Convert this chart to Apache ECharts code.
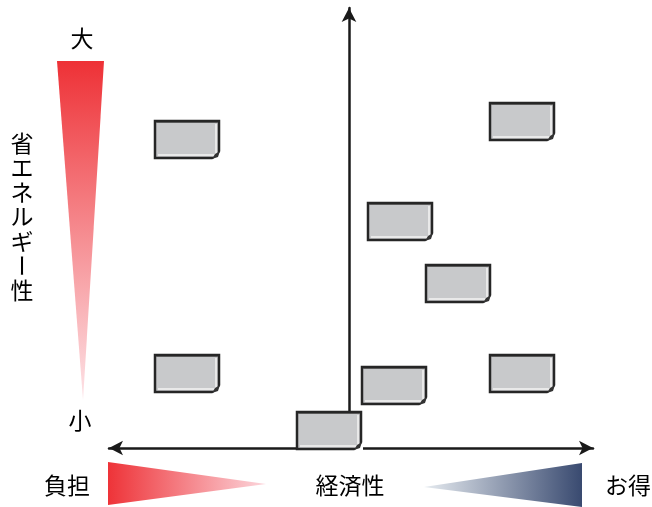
<!DOCTYPE html>
<html>
<head>
<meta charset="utf-8">
<script src="https://cdn.jsdelivr.net/npm/echarts@6/dist/echarts.min.js"></script>
<style>
  html, body { margin: 0; padding: 0; background: #fff; }
  #chart { width: 652px; height: 507px; }
</style>
</head>
<body>
<div id="chart"></div>
<script>
// 各製品の位置 (x: 経済性, y: 省エネルギー性)
const boxX = [-16.2, 17.3, 5.1, 10.9, -16.2, 4.5, 17.3, -2.0]
const boxY = [30.9, 32.7, 22.7, 16.5, 7.5, 6.3, 7.5, 1.8]
const xRange = [-24, 24.4]
const yRange = [0, 44]
const sideLabel = ['省', 'エ', 'ネ', 'ル', 'ギ', 'ー', '性']

const font = '"Noto Sans CJK JP", "Noto Sans", sans-serif'
const chart = echarts.init(document.getElementById('chart'))

const textStyle = (text) => ({
  text, fontSize: 23, fontFamily: font, fill: '#000', align: 'center', verticalAlign: 'middle'
})

// 縦書きラベル（長音符だけ回転させる）
const sideText = sideLabel.map((ch, i) => ({
  type: 'group',
  x: 22,
  y: 143 + i * 24.5,
  rotation: ch === 'ー' ? Math.PI / 2 : 0,
  children: [{type: 'text', x: 0, y: 0, style: textStyle(ch)}]
}))

const label = (text, x, y) => ({type: 'text', x, y, style: textStyle(text)})

const renderBox = (params, api) => {
  const c = api.coord([api.value(0), api.value(1)])
  const w = 64, h = 37
  const x = Math.round(c[0] - w / 2), y = Math.round(c[1] - h / 2)
  return {
    type: 'group',
    children: [
      {type: 'rect', shape: {x, y, width: w, height: h}, style: {fill: '#c8c9cb', stroke: '#262626', lineWidth: 2.5}},
      {type: 'line', shape: {x1: x + 1, y1: y + 1.5, x2: x + w - 1, y2: y + 1.5}, style: {stroke: '#5a5a5a', lineWidth: 1}},
      {type: 'polyline', shape: {points: [[x + 3, y + h - 3], [x + w - 3, y + h - 3], [x + w - 3, y + 3]]},
        style: {stroke: '#f4f4f4', lineWidth: 1.5, fill: null}},
      {type: 'polygon', shape: {points: [[x + w - 7, y + h + 2], [x + w + 2, y + h + 2], [x + w + 2, y + h - 7]]},
        style: {fill: '#fff'}},
      {type: 'polygon', shape: {points: [[x + w - 7, y + h + 1], [x + w - 4, y + h - 4], [x + w + 1, y + h - 7], [x + w - 1, y + h - 1]]},
        style: {fill: '#333'}}
    ]
  }
}

const option = {
  animation: false,
  grid: {left: 109, right: 59, top: 8, bottom: 59},
  xAxis: {
    type: 'value', min: xRange[0], max: xRange[1],
    axisLine: {show: true, onZero: true, symbol: ['arrow', 'arrow'], symbolSize: [11, 14],
      lineStyle: {color: '#1a1a1a', width: 2.5}},
    axisTick: {show: false}, axisLabel: {show: false}, splitLine: {show: false}
  },
  yAxis: {
    type: 'value', min: yRange[0], max: yRange[1],
    axisLine: {show: true, onZero: true, symbol: ['none', 'arrow'], symbolSize: [11, 14],
      lineStyle: {color: '#1a1a1a', width: 2.5}},
    axisTick: {show: false}, axisLabel: {show: false}, splitLine: {show: false}
  },
  graphic: [
    {
      type: 'polygon', shape: {points: [[57, 61], [104, 61], [83, 400]]},
      style: {fill: new echarts.graphic.LinearGradient(0, 0, 0, 1, [
        {offset: 0, color: '#ee3136'}, {offset: 1, color: '#fde3e7'}])}
    },
    {
      type: 'polygon', shape: {points: [[108, 462], [108, 505], [266, 484]]},
      style: {fill: new echarts.graphic.LinearGradient(0, 0, 1, 0, [
        {offset: 0, color: '#ee3338'}, {offset: 1, color: '#fcd6dc'}])}
    },
    {
      type: 'polygon', shape: {points: [[582, 463], [582, 507], [424, 487]]},
      style: {fill: new echarts.graphic.LinearGradient(0, 0, 1, 0, [
        {offset: 0, color: '#e6ebf0'}, {offset: 1, color: '#394a70'}])}
    },
    label('大', 82, 38),
    label('小', 80, 420),
    label('負担', 67, 485),
    label('経済性', 350, 485),
    label('お得', 628, 485),
    ...sideText
  ],
  series: [{
    type: 'custom',
    renderItem: renderBox,
    data: boxX.map((x, i) => [x, boxY[i]]),
    z: 5
  }]
}

chart.setOption(option)
</script>
</body>
</html>
